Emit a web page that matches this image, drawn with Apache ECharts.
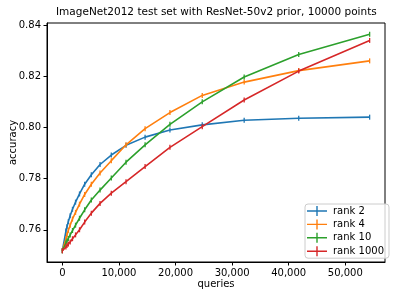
<!DOCTYPE html>
<html>
<head>
<meta charset="utf-8">
<script src="https://cdn.jsdelivr.net/npm/echarts@6/dist/echarts.min.js"></script>
<style>html,body{margin:0;padding:0;background:#fff;}#c{width:399px;height:299px;}</style>
</head>
<body>
<div id="c"></div>
<script>
var queries = [0, 628, 816, 1060, 1380, 1790, 2330, 3030, 3940, 5120, 6660, 8650, 11250, 14620, 19010, 24720, 32130, 41770, 54300];
var rank2 = [0.7518, 0.7595, 0.7612, 0.7632, 0.7655, 0.7680, 0.7708, 0.7740, 0.7778, 0.7815, 0.7855, 0.7892, 0.7930, 0.7962, 0.7990, 0.8010, 0.8028, 0.8036, 0.8040];
var rank4 = [0.7518, 0.7565, 0.7580, 0.7598, 0.7618, 0.7642, 0.7668, 0.7700, 0.7738, 0.7778, 0.7822, 0.7870, 0.7932, 0.7995, 0.8058, 0.8125, 0.8177, 0.8222, 0.8260];
var rank10 = [0.7518, 0.7548, 0.7556, 0.7566, 0.7580, 0.7597, 0.7618, 0.7645, 0.7678, 0.7716, 0.7755, 0.7802, 0.7864, 0.7932, 0.8012, 0.8100, 0.8197, 0.8285, 0.8364];
var rank1000 = [0.7518, 0.7533, 0.7538, 0.7544, 0.7552, 0.7565, 0.7580, 0.7600, 0.7630, 0.7665, 0.7703, 0.7743, 0.7788, 0.7847, 0.7922, 0.8003, 0.8107, 0.8220, 0.8340];
var seriesNames = ['rank 2', 'rank 4', 'rank 10', 'rank 1000'];
var xTicks = [0, 10000, 20000, 30000, 40000, 50000];
var yTicks = [0.76, 0.78, 0.80, 0.82, 0.84];
var titleText = 'ImageNet2012 test set with ResNet-50v2 prior, 10000 points';

var colors = ['#1f77b4', '#ff7f0e', '#2ca02c', '#d62728'];
var allData = [rank2, rank4, rank10, rank1000];
var plusIcon = 'path://M0,4.3h9.3v-4.3h1.4v4.3h9.3v1.4h-9.3v4.3h-1.4v-4.3h-9.3z';
var font = 'DejaVu Sans';

var series = allData.map(function (vals, i) {
  return {
    name: seriesNames[i],
    type: 'line',
    data: queries.map(function (q, j) { return [q, vals[j]]; }),
    symbol: 'rect',
    symbolSize: [1.3, 5],
    showSymbol: true,
    itemStyle: { color: colors[i] },
    lineStyle: { color: colors[i], width: 1.6 },
    animation: false,
    z: 2 + i
  };
});

var chart = echarts.init(document.getElementById('c'), null, { renderer: 'canvas' });
chart.setOption({
  animation: false,
  backgroundColor: '#fff',
  graphic: [{
    type: 'text', left: 'center', top: 7,
    style: { text: titleText, x: 0, y: 0, fontFamily: font, fontSize: 10.5, fill: '#000' },
    z: 10
  }],
  grid: { left: 47, right: 14, top: 23, bottom: 37, show: true, borderColor: '#000', borderWidth: 1,
    backgroundColor: 'transparent', outerBoundsMode: 'none', containLabel: false },
  legend: {
    orient: 'vertical', left: 305, top: 204,
    data: seriesNames.map(function (n) { return { name: n, icon: plusIcon }; }),
    itemWidth: 20, itemHeight: 10, itemGap: 3.4,
    padding: [2, 5, 2, 2],
    borderColor: '#ccc', borderWidth: 1, borderRadius: 3,
    backgroundColor: 'rgba(255,255,255,0.8)',
    textStyle: { fontFamily: font, fontSize: 10, color: '#000', padding: [0, 0, 0, 1] }
  },
  xAxis: {
    type: 'value', min: -2715, max: 57015,
    name: 'queries', nameLocation: 'middle', nameGap: 17, nameMoveOverlap: false,
    nameTextStyle: { fontFamily: font, fontSize: 10, color: '#000' },
    axisLine: { show: true, onZero: false, lineStyle: { color: '#000', width: 1 } },
    axisTick: { show: true, customValues: xTicks, length: 3.5, lineStyle: { color: '#000' } },
    axisLabel: { customValues: xTicks, fontFamily: font, fontSize: 10, color: '#000', margin: 6, showMinLabel: true, showMaxLabel: true },
    splitLine: { show: false }
  },
  yAxis: {
    type: 'value', min: 0.7474, max: 0.8408,
    name: 'accuracy', nameLocation: 'middle', nameGap: 29, nameRotate: 90, nameMoveOverlap: false,
    nameTextStyle: { fontFamily: font, fontSize: 10, color: '#000' },
    axisLine: { show: true, onZero: false, lineStyle: { color: '#000', width: 1 } },
    axisTick: { show: true, customValues: yTicks, length: 3.5, lineStyle: { color: '#000' } },
    axisLabel: { customValues: yTicks, fontFamily: font, fontSize: 10, color: '#000', margin: 6,
      formatter: function (v) { return v.toFixed(2); } },
    splitLine: { show: false }
  },
  series: series
});
// centre the title over the plot area (x = 216)
var g = chart.getModel().getComponent('graphic');
var w = echarts.format.getTextRect ? 0 : 0;
var ctx = document.createElement('canvas').getContext('2d');
ctx.font = '10.5px "' + font + '"';
var tw = ctx.measureText(titleText).width;
chart.setOption({ graphic: [{ left: Math.round(216 - tw / 2), top: 7 }] });
</script>
</body>
</html>
